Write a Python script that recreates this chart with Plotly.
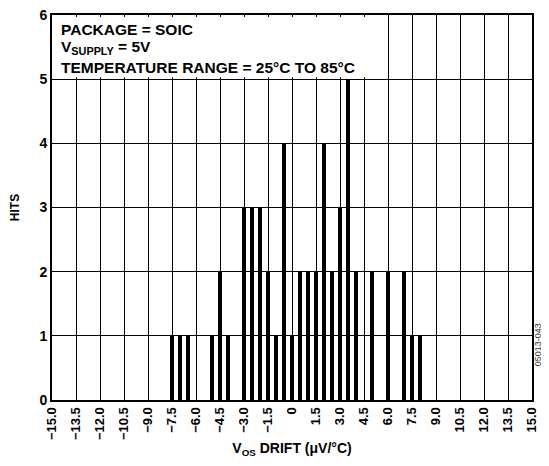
import plotly.graph_objects as go

drift = [-7.5, -7.0, -6.5, -5.0, -4.5, -4.0, -3.0, -2.5, -2.0, -1.5, -1.0, -0.5, 0.0,
         0.5, 1.0, 1.5, 2.0, 2.5, 3.0, 3.5, 4.0, 5.0, 6.0, 7.0, 7.5, 8.0]
hits = [1, 1, 1, 1, 2, 1, 3, 3, 3, 2, 1, 4, 1,
        2, 2, 2, 4, 2, 3, 5, 2, 2, 2, 2, 1, 1]

x_tickvals = [-15.0, -13.5, -12.0, -10.5, -9.0, -7.5, -6.0, -4.5, -3.0, -1.5, 0.0,
              1.5, 3.0, 4.5, 6.0, 7.5, 9.0, 10.5, 12.0, 13.5, 15.0]
x_ticktext = ["\u221215.0", "\u221213.5", "\u221212.0", "\u221210.5", "\u22129.0",
              "\u22127.5", "\u22126.0", "\u22124.5", "\u22123.0", "\u22121.5", "0",
              "1.5", "3.0", "4.5", "6.0", "7.5", "9.0", "10.5", "12.0", "13.5", "15.0"]
y_tickvals = [0, 1, 2, 3, 4, 5, 6]

info_lines = ["PACKAGE = SOIC",
              "V<sub>SUPPLY</sub> = 5V",
              "TEMPERATURE RANGE = 25\u00b0C TO 85\u00b0C"]

FONT = "Liberation Sans, Arial, sans-serif"

fig = go.Figure()
fig.add_trace(go.Bar(x=drift, y=hits, width=0.3, marker=dict(color="black", line=dict(width=0)),
                     showlegend=False))

fig.update_layout(
    width=541, height=458,
    margin=dict(l=44, r=17, t=7, b=66, autoexpand=False),
    paper_bgcolor="white", plot_bgcolor="white",
    font=dict(family=FONT, color="black"),
    bargap=0,
    xaxis=dict(range=[-15, 15], tickmode="array", tickvals=x_tickvals, ticktext=x_ticktext,
               tickangle=-90, tickfont=dict(size=13, weight="bold", family=FONT),
               ticklabeloverflow="allow",
               showgrid=True, gridcolor="black", gridwidth=1, zeroline=False, automargin=False,
               showline=True, linecolor="black", linewidth=2, mirror=True, ticks="",
               title=dict(text="V<sub>OS</sub> DRIFT (\u03bcV/\u00b0C)",
                          font=dict(size=14, weight="bold", family=FONT), standoff=4)),
    yaxis=dict(range=[0, 6], tickmode="array", tickvals=y_tickvals, automargin=False,
               tickfont=dict(size=14, weight="bold", family=FONT),
               ticklabeloverflow="allow",
               showgrid=True, gridcolor="black", gridwidth=1, zeroline=False,
               showline=True, linecolor="black", linewidth=2, mirror=True, ticks="",
               title=dict(text="HITS", font=dict(size=12, weight="bold", family=FONT), standoff=18)),
)

fig.add_shape(type="rect", xref="x", yref="y", x0=-14.95, x1=4.6, y0=5.03, y1=5.97,
              fillcolor="white", line=dict(width=0), layer="between")

for ypos, line in zip([0.962, 0.915, 0.863], info_lines):
    fig.add_annotation(xref="paper", yref="paper", x=0.015, y=ypos, xanchor="left", yanchor="middle",
                       align="left", showarrow=False, text="<b>" + line + "</b>",
                       font=dict(size=15.5, family=FONT, color="black"))

fig.add_annotation(xref="paper", yref="paper", x=1.012, y=0.083, xanchor="center", yanchor="bottom",
                   textangle=-90, showarrow=False, text="05013-043",
                   font=dict(size=9, family=FONT, color="#333"))

fig.write_html("out.html")
